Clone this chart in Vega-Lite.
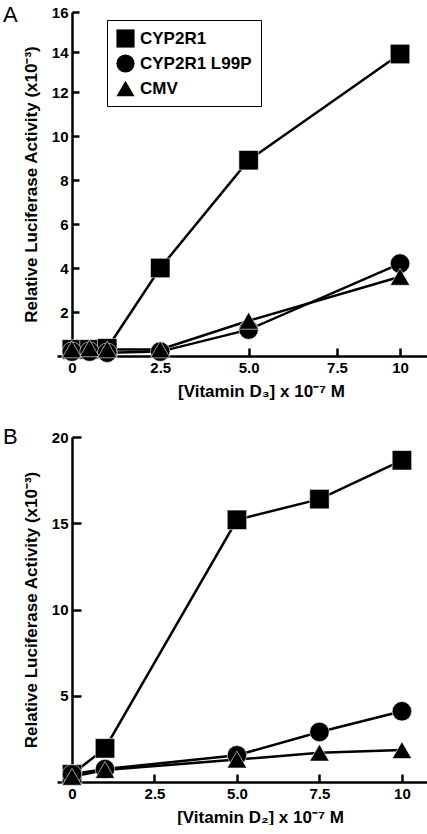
{
  "$schema": "https://vega.github.io/schema/vega-lite/v6.json",
  "padding": {"left": 3, "top": 4, "right": 0, "bottom": 0},
  "background": "white",
  "spacing": 27,
  "config": {
    "view": {"stroke": null},
    "font": "Liberation Sans",
    "axis": {
      "grid": false,
      "domainColor": "black",
      "domainWidth": 2.5,
      "tickColor": "black",
      "tickWidth": 2.5,
      "labelFont": "Liberation Sans",
      "labelFontSize": 15,
      "labelFontWeight": "bold",
      "labelColor": "black",
      "titleFont": "Liberation Sans",
      "titleFontSize": 17,
      "titleFontWeight": "bold",
      "titleColor": "black"
    },
    "legend": {
      "labelFont": "Liberation Sans",
      "labelFontSize": 17,
      "labelFontWeight": "bold",
      "labelColor": "black"
    }
  },
  "datasets": {
    "a": [
      {"series": "CYP2R1", "dose": 0, "activity": 0.3},
      {"series": "CYP2R1", "dose": 0.5, "activity": 0.3},
      {"series": "CYP2R1", "dose": 1, "activity": 0.35},
      {"series": "CYP2R1", "dose": 2.5, "activity": 4.0},
      {"series": "CYP2R1", "dose": 5, "activity": 8.9},
      {"series": "CYP2R1", "dose": 10, "activity": 13.9},
      {"series": "CYP2R1 L99P", "dose": 0, "activity": 0.2},
      {"series": "CYP2R1 L99P", "dose": 0.5, "activity": 0.2},
      {"series": "CYP2R1 L99P", "dose": 1, "activity": 0.15},
      {"series": "CYP2R1 L99P", "dose": 2.5, "activity": 0.2},
      {"series": "CYP2R1 L99P", "dose": 5, "activity": 1.2},
      {"series": "CYP2R1 L99P", "dose": 10, "activity": 4.2},
      {"series": "CMV", "dose": 0, "activity": 0.3},
      {"series": "CMV", "dose": 0.5, "activity": 0.35},
      {"series": "CMV", "dose": 1, "activity": 0.3},
      {"series": "CMV", "dose": 2.5, "activity": 0.3},
      {"series": "CMV", "dose": 5, "activity": 1.6},
      {"series": "CMV", "dose": 10, "activity": 3.6}
    ],
    "b": [
      {"series": "CYP2R1", "dose": 0, "activity": 0.45},
      {"series": "CYP2R1", "dose": 1, "activity": 1.95},
      {"series": "CYP2R1", "dose": 5, "activity": 15.2},
      {"series": "CYP2R1", "dose": 7.5, "activity": 16.4},
      {"series": "CYP2R1", "dose": 10, "activity": 18.65},
      {"series": "CYP2R1 L99P", "dose": 0, "activity": 0.45},
      {"series": "CYP2R1 L99P", "dose": 1, "activity": 0.75},
      {"series": "CYP2R1 L99P", "dose": 5, "activity": 1.55},
      {"series": "CYP2R1 L99P", "dose": 7.5, "activity": 2.9},
      {"series": "CYP2R1 L99P", "dose": 10, "activity": 4.1},
      {"series": "CMV", "dose": 0, "activity": 0.3},
      {"series": "CMV", "dose": 1, "activity": 0.7},
      {"series": "CMV", "dose": 5, "activity": 1.3},
      {"series": "CMV", "dose": 7.5, "activity": 1.7},
      {"series": "CMV", "dose": 10, "activity": 1.85}
    ]
  },
  "vconcat": [
    {
      "title": {"text": "A", "anchor": "start", "frame": "group", "dx": -54, "dy": 22, "offset": 0, "fontSize": 22, "fontWeight": "normal", "font": "Liberation Sans", "color": "black"},
      "width": 370,
      "height": 344,
      "data": {"name": "a"},
      "encoding": {
        "x": {
          "field": "dose", "type": "quantitative",
          "scale": {"domain": [-0.42, 7.5, 11.07], "range": [0, 280, 370], "nice": false, "zero": false},
          "axis": {
            "values": [0, 2.5, 5, 7.5, 10],
            "labelExpr": "datum.value == 0 ? '0' : datum.value == 10 ? '10' : format(datum.value, '.1f')",
            "tickSize": -8, "labelPadding": 12,
            "title": "[Vitamin D₃] x 10⁻⁷ M", "titleX": 204, "titlePadding": 8
          }
        },
        "y": {
          "field": "activity", "type": "quantitative",
          "scale": {"domain": [0, 12, 16], "range": [344, 80, 0], "nice": false, "zero": false},
          "axis": {
            "values": [2, 4, 6, 8, 10, 12, 14, 16],
            "offset": -15, "tickSize": -7, "labelPadding": 11,
            "title": "Relative Luciferase Activity (x10⁻³)", "titlePadding": 11
          }
        }
      },
      "layer": [
        {"mark": {"type": "line", "color": "black", "strokeWidth": 2.5}, "encoding": {"detail": {"field": "series", "type": "nominal"}}},
        {
          "mark": {"type": "point", "filled": true, "color": "black", "size": 380, "opacity": 1, "stroke": "white", "strokeWidth": 0.6},
          "encoding": {
            "shape": {
              "field": "series", "type": "nominal",
              "scale": {"domain": ["CYP2R1", "CYP2R1 L99P", "CMV"], "range": ["square", "circle", "triangle-up"]},
              "legend": {
                "orient": "none", "legendX": 50, "legendY": 8, "title": null,
                "strokeColor": "black", "fillColor": "white", "padding": 9,
                "symbolSize": 330, "symbolFillColor": "black", "symbolStrokeColor": "black", "symbolStrokeWidth": 0,
                "rowPadding": 6, "labelOffset": 5,
                "encode": {"legend": {"update": {"strokeWidth": {"value": 2}}}}
              }
            }
          }
        }
      ]
    },
    {
      "title": {"text": "B", "anchor": "start", "frame": "group", "dx": -54, "dy": 19, "offset": 0, "fontSize": 22, "fontWeight": "normal", "font": "Liberation Sans", "color": "black"},
      "width": 370,
      "height": 345,
      "data": {"name": "b"},
      "encoding": {
        "x": {
          "field": "dose", "type": "quantitative",
          "scale": {"domain": [-0.455, 10.76], "nice": false, "zero": false},
          "axis": {
            "values": [0, 2.5, 5, 7.5, 10],
            "labelExpr": "datum.value == 0 ? '0' : datum.value == 10 ? '10' : format(datum.value, '.1f')",
            "tickSize": -8, "labelPadding": 12,
            "title": "[Vitamin D₂] x 10⁻⁷ M", "titleX": 203, "titlePadding": 8
          }
        },
        "y": {
          "field": "activity", "type": "quantitative",
          "scale": {"domain": [0, 20], "nice": false, "zero": false},
          "axis": {
            "values": [5, 10, 15, 20],
            "offset": -15, "tickSize": -9, "labelPadding": 13,
            "title": "Relative Luciferase Activity (x10⁻³)", "titlePadding": 11
          }
        }
      },
      "layer": [
        {"mark": {"type": "line", "color": "black", "strokeWidth": 2.5}, "encoding": {"detail": {"field": "series", "type": "nominal"}}},
        {
          "mark": {"type": "point", "filled": true, "color": "black", "size": 380, "opacity": 1, "stroke": "white", "strokeWidth": 0.6},
          "encoding": {
            "shape": {
              "field": "series", "type": "nominal",
              "scale": {"domain": ["CYP2R1", "CYP2R1 L99P", "CMV"], "range": ["square", "circle", "triangle-up"]},
              "legend": null
            }
          }
        }
      ]
    }
  ]
}
